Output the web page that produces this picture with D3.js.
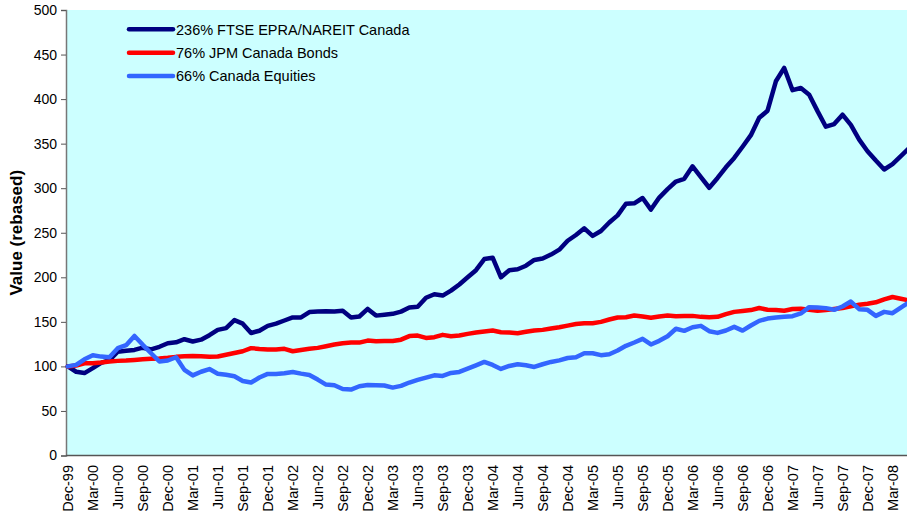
<!DOCTYPE html>
<html>
<head>
<meta charset="utf-8">
<script src="https://cdn.jsdelivr.net/npm/d3@7"></script>
<style>
  html, body { margin: 0; padding: 0; background: #ffffff; }
  svg { display: block; font-family: Arial, "Liberation Sans", sans-serif; }
</style>
</head>
<body>
<svg id="chart" width="907" height="517"></svg>
<script>
// Monthly values, Dec-99 .. May-08, rebased to 100
const reitValues = [
  100, 94, 92.5, 98, 104, 107, 116.5, 117.5, 118.5, 121, 119, 122,
  126, 127, 130.5, 128, 130, 135, 141, 143, 152, 148, 137.5, 140,
  145.5, 148, 151.5, 155, 155, 161, 161.5, 162, 161.5, 162.5, 155, 156,
  164.5, 157, 158, 159, 161.5, 166, 167, 177, 181, 179.5, 185, 192,
  200, 208, 220.5, 222, 200, 208, 209, 213, 219.5, 221, 225.5, 231,
  241, 247.5, 255, 246.5, 252, 261.5, 269.5, 282.5, 283, 289, 276, 289.5,
  299, 307.5, 310.5, 324.5, 312.5, 300.5, 311.5, 323.5, 334, 346.5, 359.5, 379,
  387, 420, 435, 410, 412.5, 405, 386.5, 369, 372, 382.5, 371, 354.5,
  341.5, 331, 321, 327, 336, 345
];
const bondValues = [
  100, 101, 103.5, 103.5, 104.3, 105.5, 106.2, 106.6, 107.3, 108, 108.5, 108.8,
  109.6, 110.7, 111.5, 111.8, 111.5, 110.8, 111.1, 113, 115, 117, 120.5, 119.6,
  119, 119, 119.7, 117, 118.5, 119.7, 120.8, 122.6, 124.5, 126, 126.7, 126.7,
  129, 128.2, 128.6, 128.6, 130, 134, 134.6, 132, 132.8, 135.4, 133.9, 134.6,
  136.5, 138, 139.1, 140.2, 138.4, 138, 137.3, 138.8, 140.2, 141, 142.5, 144,
  145.8, 147.5, 148.5, 148.5, 150, 152.6, 154.9, 155.2, 157.1, 156, 154.5, 156,
  157.1, 156.4, 156.7, 156.7, 155.6, 155.2, 155.6, 158.6, 161.2, 162.2, 163.2, 165.5,
  163.6, 163.3, 162.5, 164.4, 164.8, 163.6, 162.5, 163.3, 164.4, 165.5, 167.4, 169.3,
  170.4, 171.9, 175.3, 177.9, 176, 174
];
const equityValues = [
  100, 101.7, 108, 112.5, 111, 110.3, 120.4, 123.8, 134.2, 124.2, 114.8, 105.5,
  106.6, 110.3, 96.1, 89.9, 94, 97, 91.7, 90.6, 89, 83.7, 81.9, 87.5,
  91.6, 91.6, 92.3, 93.8, 91.9, 90.4, 85.2, 79.6, 78.8, 74.7, 74, 77.7,
  79.2, 78.8, 78.5, 76.2, 78.1, 81.9, 84.8, 87.4, 90, 89.3, 92.6, 93.8,
  97.5, 101.2, 105, 101.6, 97.1, 100.5, 102.4, 101.2, 99.4, 102.4, 105, 106.8,
  109.4, 110.3, 114.8, 114.8, 112.6, 113.7, 117.8, 123.1, 126.8, 130.9, 124.6, 128.7,
  133.9, 142.2, 139.9, 144, 145.5, 139.5, 137.6, 140.3, 144.4, 140.2, 145.9, 151.1,
  153.7, 154.9, 155.6, 156.4, 159.4, 166.5, 166.1, 165.4, 163.5, 167.2, 172.8, 164.2,
  163.5, 156.7, 161.2, 159.7, 166, 172
];

// Quarterly category labels (every third month)
const tickLabels = [
  "Dec-99", "Mar-00", "Jun-00", "Sep-00", "Dec-00", "Mar-01", "Jun-01", "Sep-01",
  "Dec-01", "Mar-02", "Jun-02", "Sep-02", "Dec-02", "Mar-03", "Jun-03", "Sep-03",
  "Dec-03", "Mar-04", "Jun-04", "Sep-04", "Dec-04", "Mar-05", "Jun-05", "Sep-05",
  "Dec-05", "Mar-06", "Jun-06", "Sep-06", "Dec-06", "Mar-07", "Jun-07", "Sep-07",
  "Dec-07", "Mar-08"
];
const yTicks = [0, 50, 100, 150, 200, 250, 300, 350, 400, 450, 500];

const seriesNames = ["236% FTSE EPRA/NAREIT Canada", "76% JPM Canada Bonds", "66% Canada Equities"];
const seriesColors = ["#000080", "#FF0000", "#3366FF"];

const series = [reitValues, bondValues, equityValues].map((values, k) => ({
  name: seriesNames[k], color: seriesColors[k], values
}));

const svg = d3.select("#chart");
const plot = { left: 66, top: 10, right: 920, bottom: 455.5 };

const x = d3.scaleLinear().domain([0, 99]).range([67.8, 892.5]);
const y = d3.scaleLinear().domain([0, 500]).range([plot.bottom, plot.top]);

// plot background
svg.append("rect")
  .attr("x", plot.left).attr("y", plot.top)
  .attr("width", plot.right - plot.left).attr("height", plot.bottom - plot.top)
  .attr("fill", "#CCFFFF");

// y axis
const yAxis = svg.append("g")
  .attr("transform", `translate(${plot.left},0)`)
  .call(d3.axisLeft(y).tickValues(yTicks).tickSize(5).tickPadding(4));
yAxis.select(".domain").attr("stroke", "#777777").attr("stroke-width", 1.5);
yAxis.selectAll(".tick line").attr("stroke", "#555555");
yAxis.selectAll(".tick text")
  .attr("font-size", "14px").attr("fill", "#000")
  .attr("font-family", "Arial, 'Liberation Sans', sans-serif");

// x axis line
svg.append("line")
  .attr("x1", plot.left).attr("x2", plot.right)
  .attr("y1", plot.bottom).attr("y2", plot.bottom)
  .attr("stroke", "#555555").attr("stroke-width", 1.5);

// x category labels, rotated
svg.append("g").selectAll("text")
  .data(tickLabels)
  .join("text")
  .attr("transform", (d, k) => `translate(${x(k * 3)},465) rotate(-90)`)
  .attr("dy", "0.35em")
  .attr("text-anchor", "end")
  .attr("font-size", "14.5px")
  .attr("fill", "#000")
  .text(d => d);

// y axis title
svg.append("text")
  .attr("transform", `translate(22,${(plot.top + plot.bottom) / 2}) rotate(-90)`)
  .attr("text-anchor", "middle")
  .attr("font-size", "17px")
  .attr("font-weight", "bold")
  .attr("fill", "#000")
  .text("Value (rebased)");

// series lines
const line = d3.line().x((d, i) => x(i)).y(d => y(d));
svg.append("g").selectAll("path")
  .data(series)
  .join("path")
  .attr("d", s => line(s.values))
  .attr("fill", "none")
  .attr("stroke", s => s.color)
  .attr("stroke-width", 4.5)
  .attr("stroke-linejoin", "round")
  .attr("stroke-linecap", "round");

// legend
const legend = svg.append("g").selectAll("g")
  .data(series)
  .join("g")
  .attr("transform", (d, k) => `translate(0,${29.3 + k * 23.4})`);
legend.append("line")
  .attr("x1", 129).attr("x2", 173)
  .attr("stroke", d => d.color)
  .attr("stroke-width", 4.5)
  .attr("stroke-linecap", "round");
legend.append("text")
  .attr("x", 176).attr("dy", "0.36em")
  .attr("font-size", "14.5px")
  .attr("fill", "#000")
  .text(d => d.name);
</script>
</body>
</html>
